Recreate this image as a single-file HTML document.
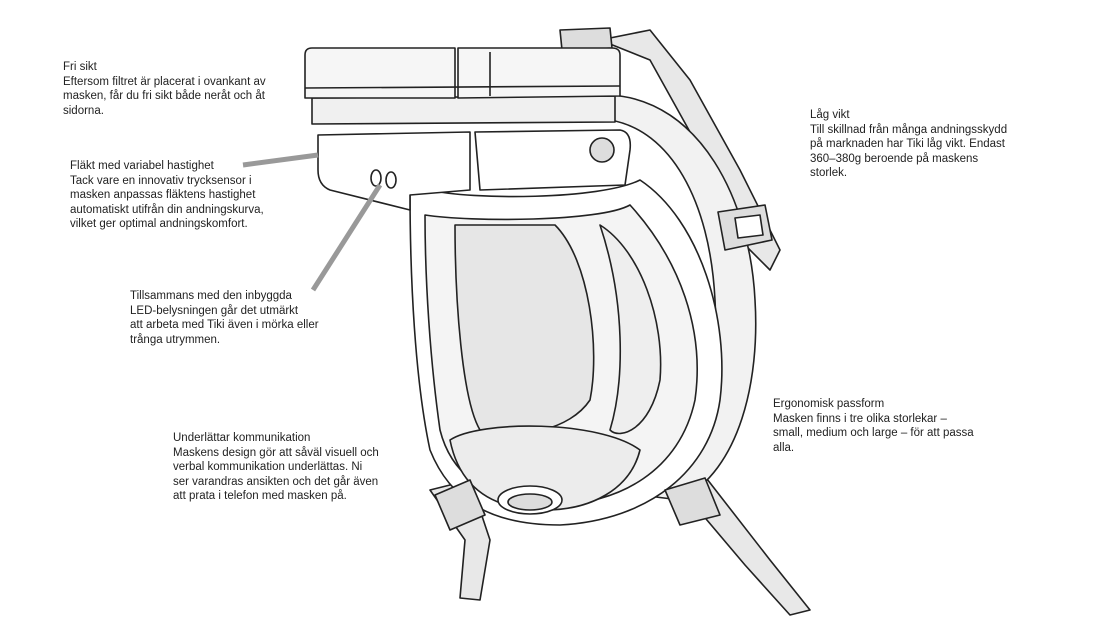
<!DOCTYPE html>
<html><head><meta charset="utf-8"><style>
body{margin:0;background:#fff;width:1120px;height:630px;overflow:hidden;position:relative;font-family:"Liberation Sans",sans-serif;}
.t{position:absolute;font-size:11.5px;line-height:14.5px;color:#222;}
svg{position:absolute;left:0;top:0}
</style></head><body>
<svg width="1120" height="630" viewBox="0 0 1120 630">
<g stroke="#222" stroke-width="1.6" fill="#fff" stroke-linejoin="round">
<!-- back straps -->
<path d="M600 40 L650 30 L690 80 L740 170 L780 250 L770 270 L740 240 L700 150 L650 60 Z" fill="#e8e8e8"/>
<path d="M560 30 L610 28 L612 48 L562 50 Z" fill="#ddd"/>
<path d="M620 460 L700 470 L770 560 L810 610 L790 615 L745 565 L690 500 L640 490 Z" fill="#e8e8e8"/>
<path d="M430 490 L470 480 L490 540 L480 600 L460 598 L465 540 Z" fill="#e8e8e8"/>
<!-- head harness ring -->
<path d="M610 95 C700 100 750 200 755 300 C760 380 740 470 680 500 L640 495 C700 460 720 380 715 300 C710 200 670 130 610 120 Z" fill="#f2f2f2"/>
<!-- mask body -->
<path d="M410 190 L430 190 C470 200 600 200 640 180 C700 220 730 320 720 400 C710 470 650 520 560 525 C490 525 450 500 430 450 C415 380 410 280 410 190 Z" fill="#fff"/>
<path d="M425 215 C470 222 600 222 630 205 C680 260 705 330 695 400 C680 470 620 505 550 505 C480 500 450 470 440 430 C430 360 425 280 425 215 Z" fill="#f4f4f4"/>
<path d="M455 225 L555 225 C590 260 600 350 590 400 C570 430 520 440 480 430 C462 400 455 300 455 225 Z" fill="#e6e6e6"/>
<path d="M600 225 C640 250 665 320 660 380 C650 430 620 440 610 430 C625 380 625 300 600 225 Z" fill="#eee"/>
<path d="M450 440 C480 420 600 420 640 450 C630 490 590 510 545 510 C495 510 460 490 450 440 Z" fill="#ececec"/>
<ellipse cx="530" cy="500" rx="32" ry="14" fill="#fff"/>
<ellipse cx="530" cy="502" rx="22" ry="8" fill="#ddd"/>
<!-- fan module -->
<path d="M318 135 L470 132 L470 190 L410 195 L410 210 L330 190 Q318 185 318 170 Z" fill="#fff"/>
<path d="M475 132 L620 130 Q632 132 630 150 L625 185 L480 190 Z" fill="#fff"/>
<circle cx="602" cy="150" r="12" fill="#ddd"/>
<ellipse cx="376" cy="178" rx="5" ry="8" fill="#fff"/>
<ellipse cx="391" cy="180" rx="5" ry="8" fill="#fff"/>
<!-- filter -->
<path d="M312 98 L615 96 L615 122 L312 124 Z" fill="#f0f0f0"/>
<path d="M305 55 Q305 48 312 48 L455 48 L455 98 L305 98 Z" fill="#f6f6f6"/>
<path d="M458 48 L612 48 Q620 48 620 55 L620 96 L458 98 Z" fill="#f6f6f6"/>
<line x1="305" y1="88" x2="620" y2="86"/>
<line x1="490" y1="52" x2="490" y2="96"/>
<!-- buckles -->
<path d="M718 212 L765 205 L772 240 L725 250 Z" fill="#ddd"/>
<path d="M735 218 L760 215 L763 235 L738 238 Z" fill="#fff"/>
<path d="M435 495 L470 480 L485 515 L450 530 Z" fill="#ddd"/>
<path d="M665 490 L705 478 L720 515 L680 525 Z" fill="#ddd"/>
</g>
<line x1="243" y1="165" x2="318" y2="155" stroke="#999" stroke-width="5"/>
<line x1="313" y1="290" x2="380" y2="185" stroke="#999" stroke-width="5"/>
</svg>
<div class="t" style="left:63px;top:60px">Fri sikt<br>Eftersom filtret är placerat i ovankant av<br>masken, får du fri sikt både neråt och åt<br>sidorna.</div>
<div class="t" style="left:70px;top:159px">Fläkt med variabel hastighet<br>Tack vare en innovativ trycksensor i<br>masken anpassas fläktens hastighet<br>automatiskt utifrån din andningskurva,<br>vilket ger optimal andningskomfort.</div>
<div class="t" style="left:130px;top:289px">Tillsammans med den inbyggda<br>LED-belysningen går det utmärkt<br>att arbeta med Tiki även i mörka eller<br>trånga utrymmen.</div>
<div class="t" style="left:173px;top:431px">Underlättar kommunikation<br>Maskens design gör att såväl visuell och<br>verbal kommunikation underlättas. Ni<br>ser varandras ansikten och det går även<br>att prata i telefon med masken på.</div>
<div class="t" style="left:810px;top:108px">Låg vikt<br>Till skillnad från många andningsskydd<br>på marknaden har Tiki låg vikt. Endast<br>360–380g beroende på maskens<br>storlek.</div>
<div class="t" style="left:773px;top:397px">Ergonomisk passform<br>Masken finns i tre olika storlekar –<br>small, medium och large – för att passa<br>alla.</div>
</body></html>
